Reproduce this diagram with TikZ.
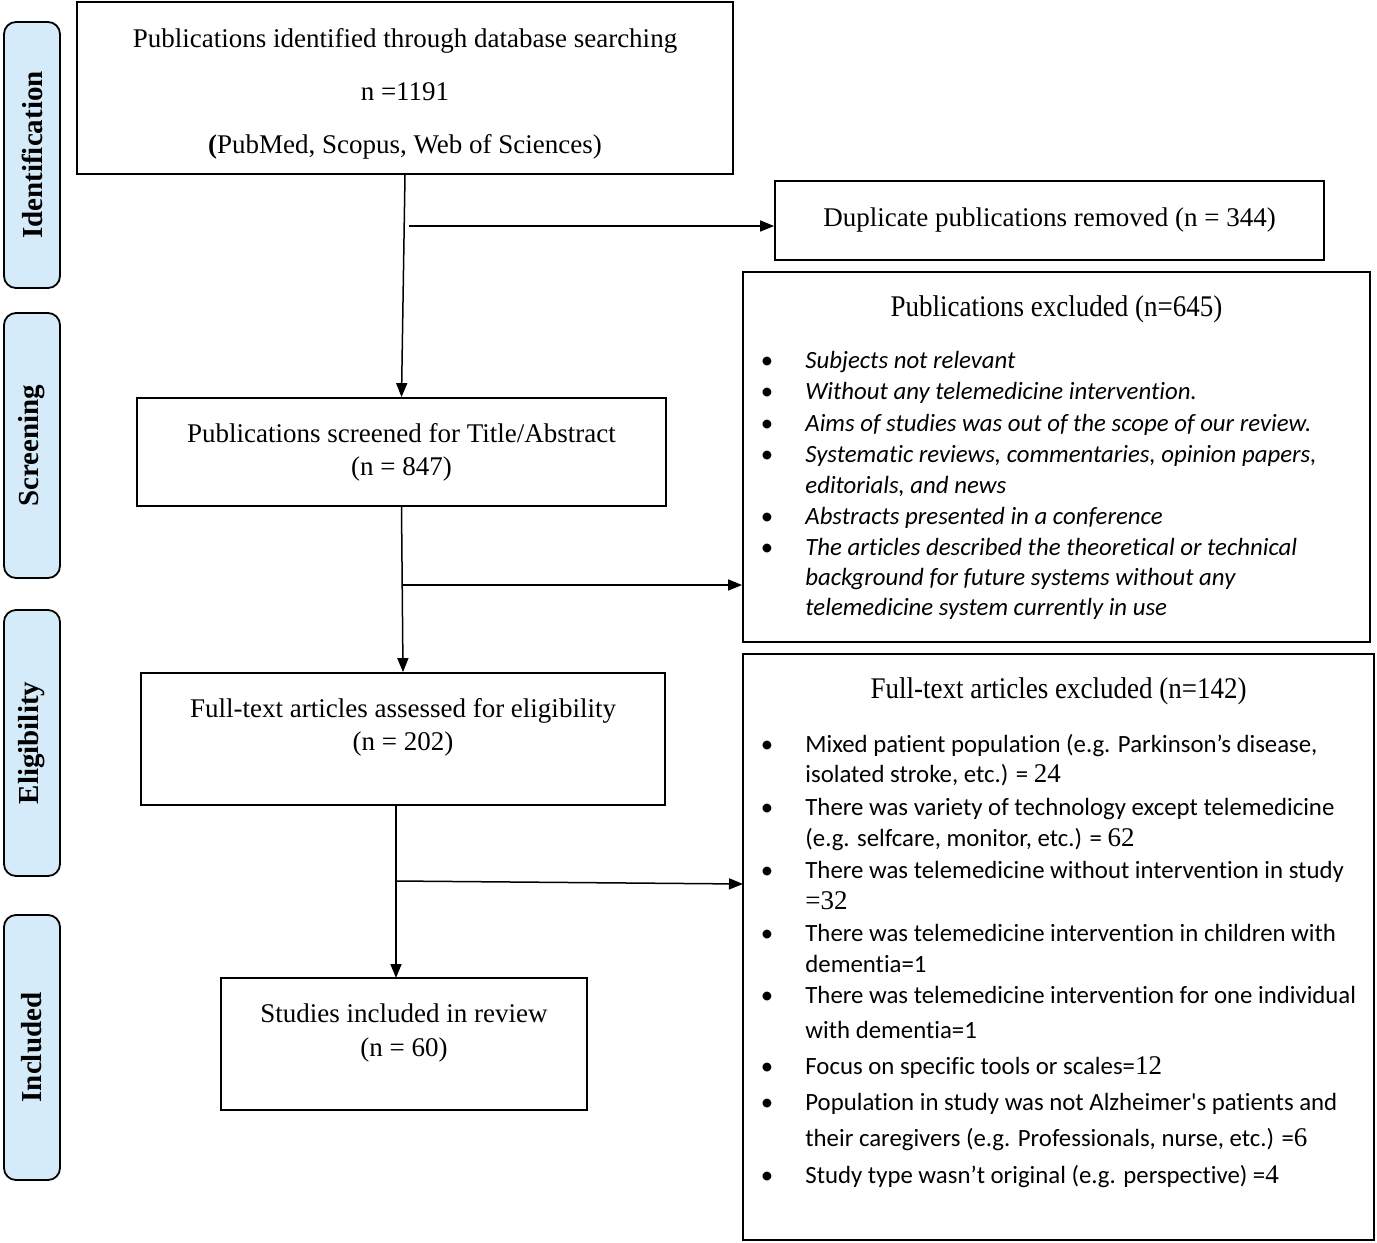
\documentclass[tikz,border=0pt]{standalone}
\usepackage{fontspec}
\setmainfont{Liberation Serif}
\newfontfamily\carlito[Ligatures=NoCommon]{Carlito}
\newfontfamily\condser[FakeStretch=0.9]{Liberation Serif}
\usetikzlibrary{arrows.meta}
\newcommand\tn[1]{{\rmfamily\fontsize{13.5}{14}\selectfont #1}}
\begin{document}
\begin{tikzpicture}[x=0.5pt,y=-0.5pt,
  box/.style={draw,line width=0.9pt,inner sep=0pt},
  side/.style={draw,line width=0.9pt,fill=sideblue,rounded corners=6pt,inner sep=0pt,minimum width=28pt},
  sidetxt/.style={rotate=90,font=\fontsize{14.5}{15}\selectfont\bfseries},
  mtxt/.style={anchor=base,inner sep=0pt,font=\fontsize{13.5}{14}\selectfont},
  ttxt/.style={anchor=base,inner sep=0pt,font=\condser\fontsize{15}{16}\selectfont},
  ltxt/.style={anchor=base west,inner sep=0pt,font=\carlito\fontsize{12.4}{13}\selectfont},
  itxt/.style={anchor=base west,inner sep=0pt,font=\carlito\itshape\fontsize{12.4}{13}\selectfont},
  arr/.style={line width=0.75pt,-{Triangle[length=7pt,width=5.5pt]}},
  ln/.style={line width=0.75pt}]
\definecolor{sideblue}{HTML}{D6EBF9}
\useasboundingbox (0,0) rectangle (1377,1243);
% side labels
\node[side,minimum height=133pt] (sid) at (32,155) {};
\node[sidetxt] (sidt) at (sid) {Identification};
\node[side,minimum height=132.5pt] (sscr) at (32,445.5) {};
\node[sidetxt] (sscrt) at (sscr) {Screening};
\node[side,minimum height=133pt] (sel) at (32,743) {};
\node[sidetxt] (selt) at (sel) {Eligibility};
\node[side,minimum height=132.5pt] (sinc) at (32,1047.5) {};
\node[sidetxt] (sinct) at (sinc) {Included};
% main boxes
\node[box,minimum width=328pt,minimum height=86pt] (b1) at (405,88) {};
\node[mtxt] (b1a) at (405,47) {Publications identified through database searching};
\node[mtxt] (b1b) at (405,100) {n =1191};
\node[mtxt] (b1c) at (405,153) {{\bfseries(}PubMed, Scopus, Web of Sciences)};
\node[box,minimum width=274.5pt,minimum height=39.5pt] (dup) at (1049.5,220.5) {};
\node[mtxt] (dupt) at (1049.5,226) {Duplicate publications removed (n = 344)};
\node[box,minimum width=264.5pt,minimum height=54pt] (scr) at (401.5,452) {};
\node[mtxt] (scra) at (401.5,442) {Publications screened for Title/Abstract};
\node[mtxt] (scrb) at (401.5,475) {(n = 847)};
\node[box,minimum width=262pt,minimum height=66pt] (full) at (403,739) {};
\node[mtxt] (fulla) at (403,717) {Full-text articles assessed for eligibility};
\node[mtxt] (fullb) at (403,750) {(n = 202)};
\node[box,minimum width=183pt,minimum height=66pt] (inc) at (404,1044) {};
\node[mtxt] (inca) at (404,1022) {Studies included in review};
\node[mtxt] (incb) at (404,1056) {(n = 60)};
% exclusion box 1
\node[box,minimum width=313.5pt,minimum height=185pt] (ex1) at (1056.5,457) {};
\node[ttxt] (ex1t) at (1056.5,316) {Publications excluded (n=645)};
\foreach \y/\t [count=\i] in {368/{Subjects not relevant},399/{Without any telemedicine intervention.},431/{Aims of studies was out of the scope of our review.},462/{Systematic reviews, commentaries, opinion papers,},493/{editorials, and news},524/{Abstracts presented in a conference},555/{The articles described the theoretical or technical},585/{background for future systems without any},615/{telemedicine system currently in use}}
  \node[itxt] (ea\i) at (805,\y) {\t};
\foreach \y [count=\i] in {368,399,431,462,524,555}
  \node[ltxt,anchor=base] (eb\i) at (767,\y) {•};
% exclusion box 2
\node[box,minimum width=315.5pt,minimum height=293pt] (ex2) at (1058.5,947) {};
\node[ttxt] (ex2t) at (1058.5,698) {Full-text articles excluded (n=142)};
\foreach \y/\t [count=\i] in {
  752/{Mixed patient population (e.g. Parkinson’s disease,},
  782/{isolated stroke, etc.) = \tn{24}},
  815/{There was variety of technology except telemedicine},
  846/{(e.g. selfcare, monitor, etc.) = \tn{62}},
  878/{There was telemedicine without intervention in study},
  909/{\tn{=32}},
  941/{There was telemedicine intervention in children with},
  972/{dementia=1},
  1003/{There was telemedicine intervention for one individual},
  1038/{with dementia=1},
  1074/{Focus on specific tools or scales=\tn{12}},
  1110/{Population in study was not Alzheimer's patients and},
  1146/{their caregivers (e.g. Professionals, nurse, etc.) =\tn{6}},
  1183/{Study type wasn’t original (e.g. perspective) =\tn{4}}}
  \node[ltxt] (fa\i) at (805,\y) {\t};
\foreach \y [count=\i] in {752,815,878,941,1003,1074,1110,1183}
  \node[ltxt,anchor=base] (fb\i) at (767,\y) {•};
% connectors
\draw[arr] (b1.south) -- (scr.north);
\coordinate (j1) at (409,226);
\draw[arr] (j1) -- (j1 -| dup.west);
\draw[arr] (scr.south) -- (full.north);
\coordinate (j2) at (402,585);
\draw[arr] (j2) -- (j2 -| ex1.west);
\coordinate (f1) at (396,805);
\coordinate (i1) at (396,978);
\draw[arr] (f1) -- (i1);
\coordinate (j3) at (396,881);
\coordinate (j3e) at (743,884);
\draw[arr] (j3) -- (j3e);
\end{tikzpicture}
\end{document}
